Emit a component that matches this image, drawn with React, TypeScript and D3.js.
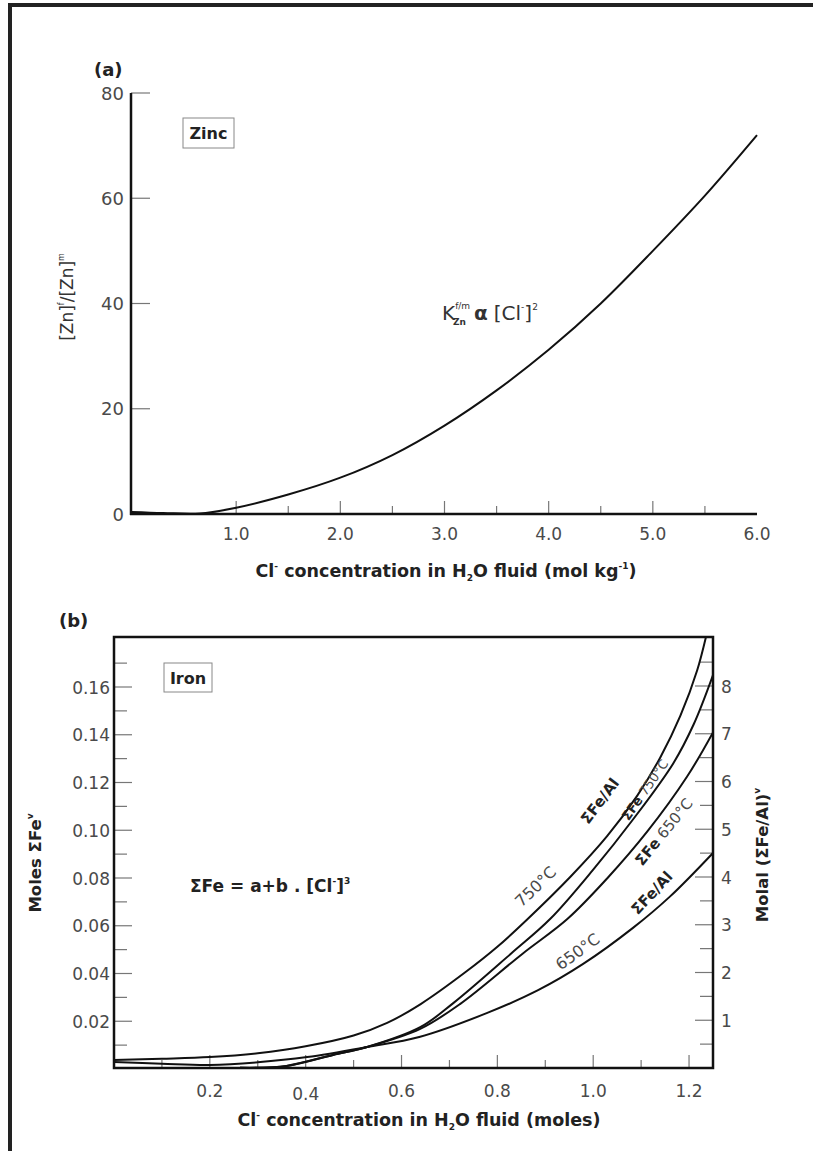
import React from 'react';
import * as d3 from 'd3';

// ---------- Panel (a) Zinc ----------
const zincX = [0, 0.3, 0.65, 1.0, 1.5, 2.0, 2.5, 3.0, 3.5, 4.0, 4.5, 5.0, 5.5, 6.0];
const zincY = [0.4, 0.2, 0.1, 1.2, 3.7, 6.9, 11.2, 16.8, 23.5, 31.2, 40, 50, 60.5, 72];
const zincYTicks = [0, 20, 40, 60, 80];
const zincXLabels = [1, 2, 3, 4, 5, 6];
const zincXMajor = [1, 2, 3, 4, 5];
const zincXMinor = [1.5, 2.5, 3.5, 4.5, 5.5];

// ---------- Panel (b) Iron ----------
// A: ΣFe/Al 750°C
const feAl750X = [0, 0.1, 0.2, 0.3, 0.4, 0.5, 0.57, 0.64, 0.733, 0.8, 0.86, 0.952, 1.029, 1.092, 1.14, 1.182, 1.217, 1.24];
const feAl750Y = [0.0038, 0.0043, 0.005, 0.0066, 0.0095, 0.014, 0.0193, 0.0272, 0.0405, 0.0512, 0.0622, 0.0804, 0.0975, 0.1145, 0.1305, 0.148, 0.167, 0.185];
// B: ΣFe 750°C
const fe750X = [0.3, 0.36, 0.457, 0.528, 0.639, 0.708, 0.83, 0.91, 1.0, 1.083, 1.167, 1.21, 1.25];
const fe750Y = [0.0004, 0.0013, 0.0059, 0.0092, 0.0175, 0.0276, 0.0486, 0.0628, 0.0835, 0.1045, 0.128, 0.1445, 0.165];
// C: ΣFe 650°C
const fe650X = [0.263, 0.36, 0.457, 0.528, 0.639, 0.722, 0.852, 0.946, 1.029, 1.113, 1.196, 1.25];
const fe650Y = [0.0006, 0.0013, 0.0059, 0.0092, 0.0168, 0.0272, 0.0482, 0.0628, 0.0798, 0.0995, 0.1225, 0.141];
// D: ΣFe/Al 650°C
const feAl650X = [0, 0.1, 0.2, 0.3, 0.403, 0.528, 0.637, 0.779, 0.885, 0.979, 1.083, 1.16, 1.25];
const feAl650Y = [0.0029, 0.0022, 0.0017, 0.0028, 0.005, 0.0092, 0.0134, 0.0235, 0.033, 0.044, 0.0591, 0.0722, 0.0905];

const ironYMajor = [0.02, 0.04, 0.06, 0.08, 0.1, 0.12, 0.14, 0.16];
const ironYMinor = [0.01, 0.03, 0.05, 0.07, 0.09, 0.11, 0.13, 0.15, 0.17];
const ironXMajor = [0.2, 0.4, 0.6, 0.8, 1.0, 1.2];
const ironXMinor = [0.1, 0.3, 0.5, 0.7, 0.9, 1.1];
const molalMajor = [1, 2, 3, 4, 5, 6, 7, 8];
const molalMinor = [0.5, 1.5, 2.5, 3.5, 4.5, 5.5, 6.5, 7.5, 8.5];

const TICKFONT = 'DejaVu Sans';
const BOLDFONT = 'DejaVu Sans';

export default function App() {
  const xA = d3.scaleLinear().domain([0, 6]).range([132, 757]);
  const yA = d3.scaleLinear().domain([0, 80]).range([514, 93]);
  const xB = d3.scaleLinear().domain([0, 1.25]).range([114, 713]);
  const yB = d3.scaleLinear().domain([0, 0.16]).range([1069, 687]);
  const yR = d3.scaleLinear().domain([0, 8]).range([1068, 686]);

  const lineA = d3.line<number>().x((_, i) => xA(zincX[i])).y((d) => yA(d)).curve(d3.curveCatmullRom.alpha(0.5));
  const mk = (xs: number[], ys: number[]) =>
    d3.line<number>().x((_, i) => xB(xs[i])).y((d) => yB(d)).curve(d3.curveCatmullRom.alpha(0.5))(ys) || '';

  const tickCol = '#777';
  const labCol = '#4a4a4a';

  return (
    <svg width={813} height={1151} style={{ position: 'absolute', left: 0, top: 0, background: '#fff' }}>
      <defs>
        <clipPath id="clipB">
          <rect x={114} y={637} width={599} height={431} />
        </clipPath>
      </defs>
      <path d="M10,1151 V5 H813" fill="none" stroke="#222" strokeWidth={4} />

      {/* ===== Panel a ===== */}
      <text x={94} y={76} fontFamily={BOLDFONT} fontWeight="bold" fontSize={18} fill="#222">(a)</text>
      {zincYTicks.filter((t) => t > 0).map((t) => (
        <line key={'ya' + t} x1={xA(0) - 1} x2={xA(0) + 18} y1={yA(t)} y2={yA(t)} stroke={tickCol} strokeWidth={1.2} />
      ))}
      {zincYTicks.map((t) => (
        <text key={'yal' + t} x={124} y={yA(t) + 6.5} textAnchor="end" fontFamily={TICKFONT} fontSize={18} fill={labCol}>{t}</text>
      ))}
      {zincXMajor.map((t) => (
        <line key={'xa' + t} x1={xA(t)} x2={xA(t)} y1={yA(0)} y2={yA(0) - 13} stroke={tickCol} strokeWidth={1.2} />
      ))}
      {zincXMinor.map((t) => (
        <line key={'xam' + t} x1={xA(t)} x2={xA(t)} y1={yA(0)} y2={yA(0) - 8} stroke={tickCol} strokeWidth={1.2} />
      ))}
      {zincXLabels.map((t) => (
        <text key={'xal' + t} x={xA(t)} y={540} textAnchor="middle" fontFamily={TICKFONT} fontSize={17} fill={labCol}>{t.toFixed(1)}</text>
      ))}
      <line x1={131} x2={131} y1={93} y2={515} stroke="#111" strokeWidth={2.5} />
      <line x1={130} x2={757} y1={514} y2={514} stroke="#111" strokeWidth={2.5} />
      <path d={lineA(zincY) || ''} fill="none" stroke="#111" strokeWidth={2} />
      <rect x={183} y={118} width={51} height={30} fill="#fff" stroke="#888" strokeWidth={1} />
      <text x={208.5} y={139} textAnchor="middle" fontFamily={BOLDFONT} fontWeight="bold" fontSize={16} fill="#222">Zinc</text>
      <text x={442} y={320} fontFamily={TICKFONT} fontSize={20} fill="#333">
        K
        <tspan fontSize={9} dy={-11}>f/m</tspan>
        <tspan fontSize={9} fontWeight="bold" dx={-17} dy={16}>Zn</tspan>
        <tspan fontWeight="bold" dy={-5} dx={8}>α</tspan>
        <tspan dx={6}>[Cl</tspan>
        <tspan fontSize={9} dy={-10}>-</tspan>
        <tspan dy={10}>]</tspan>
        <tspan fontSize={9} dy={-10}>2</tspan>
      </text>
      <text transform="translate(73,297) rotate(-90)" textAnchor="middle" fontFamily={TICKFONT} fontSize={17} fill="#333">
        [Zn]<tspan fontSize={8} dy={-9}>f</tspan><tspan dy={9}>/[Zn]</tspan><tspan fontSize={8} dy={-9}>m</tspan>
      </text>
      <text x={446} y={577} textAnchor="middle" fontFamily={BOLDFONT} fontWeight="bold" fontSize={17.5} fill="#222">
        Cl<tspan fontSize={9} dy={-8}>-</tspan><tspan dy={8}> concentration in H</tspan><tspan fontSize={9} dy={4}>2</tspan><tspan dy={-4}>O fluid (mol kg</tspan><tspan fontSize={9} dy={-8}>-1</tspan><tspan dy={8}>)</tspan>
      </text>

      {/* ===== Panel b ===== */}
      <text x={59} y={627} fontFamily={BOLDFONT} fontWeight="bold" fontSize={18} fill="#222">(b)</text>
      {ironYMajor.map((t) => (
        <line key={'yb' + t} x1={114} x2={132} y1={yB(t)} y2={yB(t)} stroke={tickCol} strokeWidth={1.2} />
      ))}
      {ironYMinor.map((t) => (
        <line key={'ybm' + t} x1={114} x2={127} y1={yB(t)} y2={yB(t)} stroke={tickCol} strokeWidth={1.2} />
      ))}
      {ironYMajor.map((t) => (
        <text key={'ybl' + t} x={110} y={yB(t) + 6.5} textAnchor="end" fontFamily={TICKFONT} fontSize={17} fill={labCol}>{t.toFixed(2)}</text>
      ))}
      {molalMajor.map((t) => (
        <line key={'yr' + t} x1={695} x2={713} y1={yR(t)} y2={yR(t)} stroke={tickCol} strokeWidth={1.2} />
      ))}
      {molalMinor.map((t) => (
        <line key={'yrm' + t} x1={700} x2={713} y1={yR(t)} y2={yR(t)} stroke={tickCol} strokeWidth={1.2} />
      ))}
      {molalMajor.map((t) => (
        <text key={'yrl' + t} x={721} y={yR(t) + 6.5} fontFamily={TICKFONT} fontSize={17} fill={labCol}>{t}</text>
      ))}
      {ironXMajor.map((t) => (
        <line key={'xb' + t} x1={xB(t)} x2={xB(t)} y1={1068} y2={1055} stroke={tickCol} strokeWidth={1.2} />
      ))}
      {ironXMinor.map((t) => (
        <line key={'xbm' + t} x1={xB(t)} x2={xB(t)} y1={1068} y2={1060} stroke={tickCol} strokeWidth={1.2} />
      ))}
      {ironXMajor.map((t) => (
        <text key={'xbl' + t} x={xB(t)} y={t === 0.4 ? 1100 : 1097} textAnchor="middle" fontFamily={TICKFONT} fontSize={17} fill={labCol}>{t.toFixed(1)}</text>
      ))}
      <g clipPath="url(#clipB)" fill="none" stroke="#111" strokeWidth={2}>
        <path d={mk(feAl750X, feAl750Y)} />
        <path d={mk(fe750X, fe750Y)} />
        <path d={mk(fe650X, fe650Y)} />
        <path d={mk(feAl650X, feAl650Y)} />
      </g>
      <rect x={114} y={637} width={599} height={431} fill="none" stroke="#111" strokeWidth={2.5} />
      <rect x={164} y={663} width={48} height={29} fill="#fff" stroke="#888" strokeWidth={1} />
      <text x={188} y={684} textAnchor="middle" fontFamily={BOLDFONT} fontWeight="bold" fontSize={16} fill="#222">Iron</text>
      <text x={190} y={892} fontFamily={BOLDFONT} fontWeight="bold" fontSize={17} fill="#222">
        ΣFe = a+b . [Cl<tspan fontSize={9} dy={-8}>-</tspan><tspan dy={8}>]</tspan><tspan fontSize={9} dy={-8}>3</tspan>
      </text>
      {/* curve labels */}
      <text transform="translate(536,887) rotate(-44)" textAnchor="middle" dy={5} fontFamily={TICKFONT} fontSize={16} fill={labCol}>750°C</text>
      <text transform="translate(600,801) rotate(-53)" textAnchor="middle" dy={5} fontFamily={BOLDFONT} fontWeight="bold" fontSize={15} fill="#222">ΣFe/Al</text>
      <text transform="translate(645,790) rotate(-55)" textAnchor="middle" dy={4.5} fontFamily={TICKFONT} fontSize={13} fill={labCol}>
        <tspan fontWeight="bold" fill="#222">ΣFe</tspan> 750°C
      </text>
      <text transform="translate(664,832) rotate(-51)" textAnchor="middle" dy={5} fontFamily={TICKFONT} fontSize={15} fill={labCol}>
        <tspan fontWeight="bold" fill="#222">ΣFe</tspan> 650°C
      </text>
      <text transform="translate(652,893) rotate(-47)" textAnchor="middle" dy={5} fontFamily={BOLDFONT} fontWeight="bold" fontSize={15} fill="#222">ΣFe/Al</text>
      <text transform="translate(578,952) rotate(-36)" textAnchor="middle" dy={5} fontFamily={TICKFONT} fontSize={16} fill={labCol}>650°C</text>
      {/* axis titles */}
      <text transform="translate(41,863) rotate(-90)" textAnchor="middle" fontFamily={BOLDFONT} fontWeight="bold" fontSize={16.5} fill="#222">
        Moles ΣFe<tspan fontSize={9} dy={-8}>v</tspan>
      </text>
      <text transform="translate(768,855) rotate(-90)" textAnchor="middle" fontFamily={BOLDFONT} fontWeight="bold" fontSize={16.5} fill="#222">
        Molal (ΣFe/Al)<tspan fontSize={9} dy={-8}>v</tspan>
      </text>
      <text x={419} y={1126} textAnchor="middle" fontFamily={BOLDFONT} fontWeight="bold" fontSize={17.5} fill="#222">
        Cl<tspan fontSize={9} dy={-8}>-</tspan><tspan dy={8}> concentration in H</tspan><tspan fontSize={9} dy={4}>2</tspan><tspan dy={-4}>O fluid (moles)</tspan>
      </text>
    </svg>
  );
}
